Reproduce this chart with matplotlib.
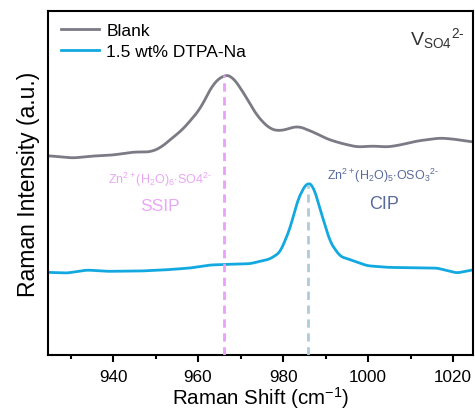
import matplotlib
matplotlib.use("Agg")
import matplotlib.pyplot as plt
import numpy as np

plt.rcParams['font.family'] = ['Liberation Sans', 'DejaVu Sans']
plt.rcParams['mathtext.fontset'] = 'custom'
plt.rcParams['mathtext.rm'] = 'Liberation Sans'
plt.rcParams['mathtext.it'] = 'Liberation Sans'

# Blank spectrum (wavenumber, intensity a.u.)
blank_x = [924.7, 930.6, 935.3, 940.0, 944.7, 948.7, 951.1, 956.5, 960.5, 963.5,
           966.1, 968.0, 970.6, 973.9, 976.9, 979.3, 983.5, 987.1, 990.4, 993.4,
           997.4, 1001.2, 1004.5, 1007.5, 1011.5, 1016.9, 1020.0, 1024.7]
blank_y = [199.3, 197.0, 199.0, 200.0, 203.0, 203.0, 207.0, 226.0, 246.0, 271.0,
           280.3, 279.0, 263.0, 239.0, 226.0, 224.0, 229.0, 223.0, 216.0, 212.0,
           208.0, 209.0, 208.0, 210.0, 214.0, 217.0, 216.0, 213.0]

# 1.5 wt% DTPA-Na spectrum
dtpa_x = [924.7, 929.2, 933.9, 938.6, 946.4, 952.7, 958.1, 962.8, 966.8, 972.2,
          976.9, 979.3, 981.6, 983.5, 985.6, 987.1, 988.7, 991.1, 993.4, 996.5,
          999.8, 1004.5, 1009.2, 1016.2, 1020.9, 1024.7]
dtpa_y = [82.7, 82.0, 85.0, 83.7, 84.0, 85.3, 87.0, 90.0, 90.7, 91.3,
          96.0, 102.7, 126.0, 156.0, 172.7, 169.3, 146.0, 112.7, 98.7, 94.3,
          89.3, 87.7, 87.3, 87.0, 82.0, 85.3]

ssip_pos = 966.2
cip_pos = 985.8
xticks = [940, 960, 980, 1000, 1020]

def smooth(x, y, n=400, k=7):
    x = np.asarray(x); y = np.asarray(y)
    xs = np.linspace(x.min(), x.max(), n)
    ys = np.interp(xs, x, y)
    w = np.ones(k) / k
    pad = np.pad(ys, k // 2, mode='edge')
    ys = np.convolve(pad, w, mode='valid')
    return xs, ys

fig = plt.figure(figsize=(4.75, 4.14), dpi=100)
ax = fig.add_axes([0.101, 0.140, 0.895, 0.831])

bx, by = smooth(blank_x, blank_y, k=11)
dx, dy = smooth(dtpa_x, dtpa_y, k=7)
ax.plot(bx, by, color='#7b7a85', lw=2, label='Blank')
ax.plot(dx, dy, color='#12a9e0', lw=2, label='1.5 wt% DTPA-Na')

ax.plot([ssip_pos, ssip_pos], [0, 280], color='#e8a0f8', lw=2, ls=(0, (3, 2)), zorder=3)
ax.plot([cip_pos, cip_pos], [0, 170], color='#b0cbd8', lw=2, ls=(0, (3, 2)), zorder=3)

ax.set_xlim(924.7, 1024.7)
ax.set_ylim(0, 344)
ax.set_xticks(xticks)
ax.set_xticks([930, 950, 970, 990, 1010], minor=True)
ax.set_yticks([])
ax.tick_params(axis='x', which='major', length=5, width=1.5, labelsize=12.3, pad=5,
               direction='out')
ax.tick_params(axis='x', which='minor', length=3, width=1.5, direction='out')
for s in ax.spines.values():
    s.set_linewidth(1.5)

ax.set_xlabel('Raman Shift (cm$^{-1}$)', fontsize=14.8, labelpad=0)
ax.set_ylabel('Raman Intensity (a.u.)', fontsize=16.5, labelpad=6)

leg = ax.legend(loc='upper left', frameon=False, fontsize=12.5, handlelength=2.2,
                handletextpad=0.4, labelspacing=0.3, borderaxespad=0.0,
                bbox_to_anchor=(0.015, 0.985))

ax.text(1016.3, 317, r'V$_{\mathrm{SO4}}$$^{\mathrm{2\text{-}}}$', fontsize=14,
        ha='center', va='center', color='#333333')

ax.text(950.9, 176, r'Zn$^{2+}$(H$_2$O)$_6$$\cdot$SO4$^{2\text{-}}$', fontsize=9,
        ha='center', va='center', color='#eaa7f6')
ax.text(951.1, 150, 'SSIP', fontsize=12.5, ha='center', va='center', color='#eaa7f6')
ax.text(1003.6, 180, r'Zn$^{2+}$(H$_2$O)$_5$$\cdot$OSO$_3$$^{2\text{-}}$', fontsize=9,
        ha='center', va='center', color='#5a6a9c')
ax.text(1003.8, 152, 'CIP', fontsize=13, ha='center', va='center', color='#5a6a9c')

fig.savefig('out.png', dpi=100)
